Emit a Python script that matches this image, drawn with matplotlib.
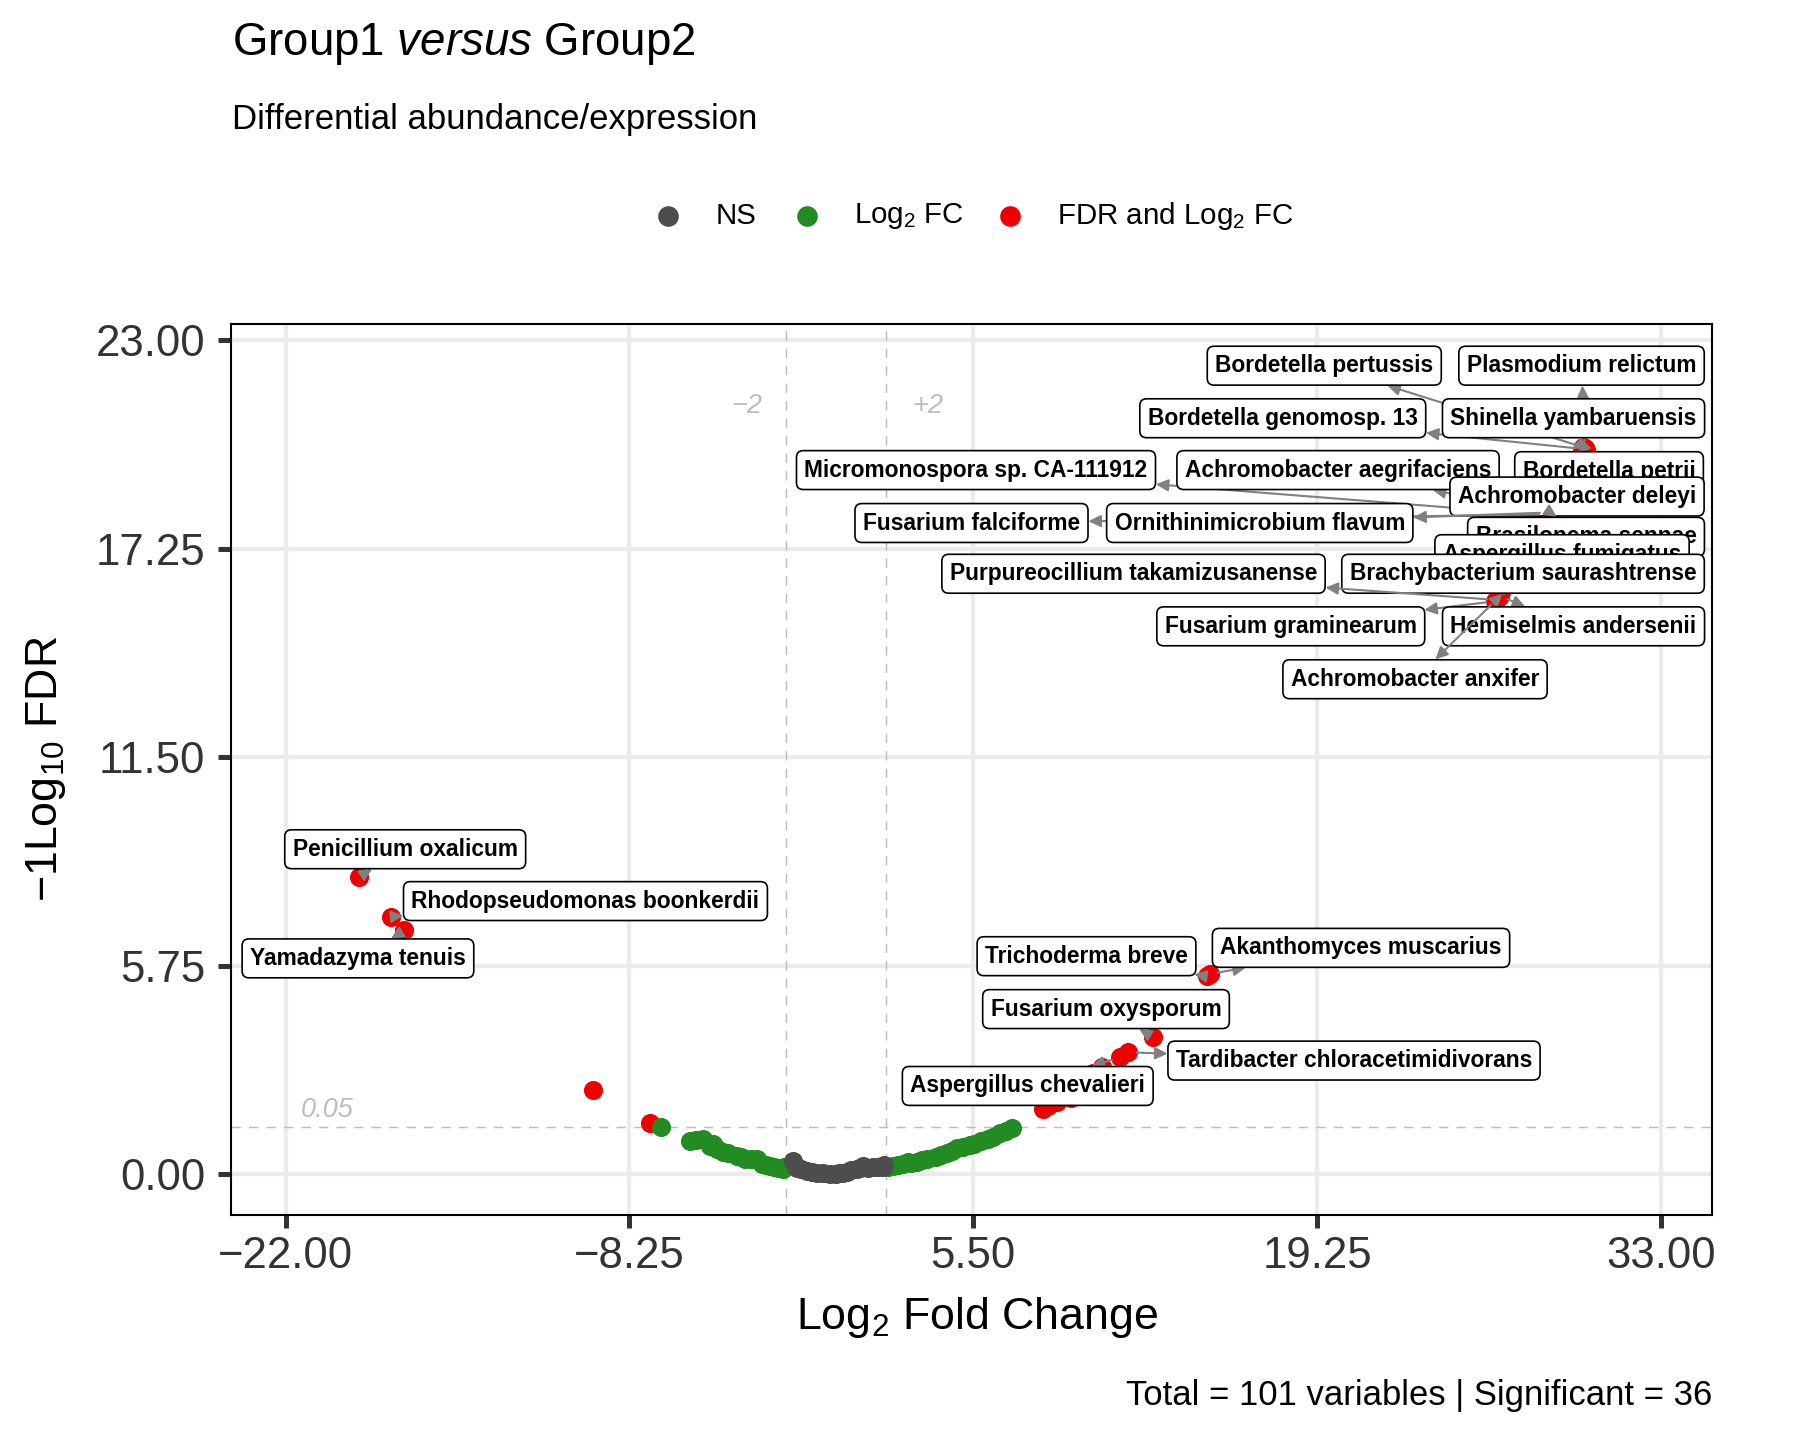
import matplotlib
matplotlib.use("Agg")
import matplotlib.pyplot as plt

plt.rcParams['font.family'] = ['Liberation Sans', 'DejaVu Sans']
plt.rcParams['mathtext.fontset'] = 'custom'
plt.rcParams['mathtext.rm'] = 'Liberation Sans'
plt.rcParams['mathtext.it'] = 'Liberation Sans:italic'
plt.rcParams['mathtext.bf'] = 'Liberation Sans:bold'

# not significant (|log2FC| < 2, FDR > 0.05)
ns_x = [-1.70, -1.56, -1.40, -1.16, -0.95, -0.76, -0.50, -0.23, 0.00, 0.15, 0.30,
        0.44, 0.62, 0.84, 0.97, 1.10, 1.30, 1.50, 1.70, 1.90, 1.95]
ns_y = [0.37, 0.18, 0.14, 0.09, 0.06, 0.03, 0.02, 0.00, 0.00, 0.02, 0.03,
        0.06, 0.10, 0.14, 0.16, 0.22, 0.18, 0.20, 0.20, 0.20, 0.24]

# log2FC only
fc_x = [-7.00, -5.83, -5.60, -5.30, -5.03, -4.90, -4.76, -4.50, -4.30, -3.96, -3.80,
        -3.63, -3.40, -3.16, -2.96, -2.80, -2.63, -2.45, -2.30, -2.10, -2.05,
        2.10, 2.30, 2.50, 2.70, 2.90, 3.00, 3.24, 3.45, 3.64, 4.00, 4.20, 4.44,
        4.65, 4.84, 5.10, 5.37, 5.55, 5.80, 6.10, 6.30, 6.57, 6.80, 7.04]
fc_y = [1.29, 0.92, 0.95, 0.98, 0.78, 0.83, 0.69, 0.60, 0.58, 0.51, 0.46,
        0.41, 0.42, 0.41, 0.28, 0.26, 0.23, 0.20, 0.18, 0.14, 0.20,
        0.20, 0.23, 0.25, 0.27, 0.33, 0.30, 0.33, 0.38, 0.42, 0.48, 0.52, 0.57,
        0.63, 0.71, 0.75, 0.80, 0.84, 0.90, 0.98, 1.03, 1.12, 1.18, 1.26]

# FDR and log2FC
sig_names = ['Penicillium oxalicum', 'Rhodopseudomonas boonkerdii', 'Yamadazyma tenuis', '', '',
             'Trichoderma breve', 'Akanthomyces muscarius', 'Fusarium oxysporum',
             'Tardibacter chloracetimidivorans', 'Aspergillus chevalieri', '', '', '', '', '', '',
             'Plasmodium relictum', 'Shinella yambaruensis', 'Bordetella pertussis',
             'Bordetella petrii', 'Bordetella genomosp. 13', '',
             'Achromobacter deleyi', 'Achromobacter aegrifaciens', 'Micromonospora sp. CA-111912',
             'Ornithinimicrobium flavum', 'Fusarium falciforme', 'Brasilonema sennae', '',
             'Aspergillus fumigatus', 'Brachybacterium saurashtrense',
             'Purpureocillium takamizusanense', 'Fusarium graminearum',
             'Hemiselmis andersenii', 'Achromobacter anxifer', '']
sig_x = [-19.08, -17.77, -17.25, -9.71, -7.43,
         14.85, 14.95, 12.70, 11.70, 11.37, 10.64, 10.30, 9.40, 8.84, 8.50, 8.30,
         29.97, 29.95, 29.90, 30.00, 29.93, 29.85,
         28.44, 28.40, 28.35, 28.50, 28.45, 28.60, 28.30,
         26.44, 26.50, 26.40, 26.35, 26.55, 26.45, 26.60]
sig_y = [8.19, 7.10, 6.72, 2.32, 1.41,
         5.45, 5.52, 3.77, 3.36, 3.22, 2.94, 2.80, 2.10, 1.99, 1.88, 1.79,
         20.00, 20.02, 20.05, 19.97, 20.00, 19.95,
         18.20, 18.22, 18.18, 18.25, 18.20, 18.24, 18.15,
         15.86, 15.90, 15.84, 15.80, 15.95, 15.86, 16.05]

# where the boxed labels sit
label_pos = {
    'Bordetella pertussis': (19.54, 22.30), 'Plasmodium relictum': (29.83, 22.30),
    'Bordetella genomosp. 13': (17.88, 20.85), 'Shinella yambaruensis': (29.51, 20.85),
    'Micromonospora sp. CA-111912': (5.61, 19.42), 'Achromobacter aegrifaciens': (20.09, 19.42),
    'Bordetella petrii': (30.93, 19.39), 'Achromobacter deleyi': (29.65, 18.69),
    'Fusarium falciforme': (5.43, 17.96), 'Ornithinimicrobium flavum': (16.96, 17.96),
    'Brasilonema sennae': (30.01, 17.58), 'Aspergillus fumigatus': (29.05, 17.10),
    'Brachybacterium saurashtrense': (27.49, 16.56),
    'Purpureocillium takamizusanense': (11.91, 16.56),
    'Fusarium graminearum': (18.20, 15.11), 'Hemiselmis andersenii': (29.51, 15.11),
    'Achromobacter anxifer': (23.17, 13.65),
    'Penicillium oxalicum': (-17.22, 8.96), 'Rhodopseudomonas boonkerdii': (-10.01, 7.53),
    'Yamadazyma tenuis': (-19.11, 5.95), 'Trichoderma breve': (10.03, 6.01),
    'Akanthomyces muscarius': (21.01, 6.24), 'Fusarium oxysporum': (10.81, 4.55),
    'Tardibacter chloracetimidivorans': (20.73, 3.13), 'Aspergillus chevalieri': (7.68, 2.43),
}
# drawing order of labels (later ones on top)
label_order = ['Penicillium oxalicum', 'Rhodopseudomonas boonkerdii', 'Yamadazyma tenuis',
               'Trichoderma breve', 'Akanthomyces muscarius', 'Fusarium oxysporum',
               'Tardibacter chloracetimidivorans', 'Aspergillus chevalieri',
               'Bordetella pertussis', 'Plasmodium relictum', 'Bordetella genomosp. 13',
               'Shinella yambaruensis', 'Micromonospora sp. CA-111912',
               'Achromobacter aegrifaciens', 'Bordetella petrii', 'Achromobacter deleyi',
               'Fusarium falciforme', 'Ornithinimicrobium flavum', 'Brasilonema sennae',
               'Aspergillus fumigatus', 'Brachybacterium saurashtrense',
               'Purpureocillium takamizusanense', 'Fusarium graminearum',
               'Hemiselmis andersenii', 'Achromobacter anxifer']

xticks = [-22, -8.25, 5.5, 19.25, 33]
yticks = [0, 5.75, 11.5, 17.25, 23]
fc_cut = 2
p_cut = 1.30103  # -log10(0.05)

fig = plt.figure(figsize=(12, 9.6), dpi=150)
ax = fig.add_axes([0.1283, 0.1565, 0.8227, 0.6185])

ax.set_xlim(-24.19, 35.04)
ax.set_ylim(-1.12, 23.45)
ax.set_axisbelow(True)
ax.grid(True, color='#ebebeb', lw=2.1)

for v in (-fc_cut, fc_cut):
    ax.axvline(v, color='#bdbdbd', lw=0.7, ls=(0, (6.4, 5.6)), zorder=1)
ax.axhline(p_cut, color='#bdbdbd', lw=0.7, ls=(0, (6.4, 5.6)), zorder=1)
ax.text(-3.57, 21.2, '\u22122', color='#bdbdbd', style='italic', fontsize=13, ha='center', va='center')
ax.text(3.69, 21.2, '+2', color='#bdbdbd', style='italic', fontsize=13, ha='center', va='center')
ax.text(-20.35, 1.76, '0.05', color='#bdbdbd', style='italic', fontsize=13, ha='center', va='center')

ax.scatter(sig_x, sig_y, s=84, color='#ee0000', lw=0, zorder=2)
ax.scatter(fc_x, fc_y, s=84, color='#228b22', lw=0, zorder=2)
ax.scatter(ns_x, ns_y, s=84, color='#4d4d4d', lw=0, zorder=2)

for i, name in enumerate(label_order):
    k = sig_names.index(name)
    ax.annotate(name, xy=(sig_x[k], sig_y[k]), xytext=label_pos[name],
                ha='center', va='center', fontsize=10.9, fontweight='bold',
                bbox=dict(boxstyle='round,pad=0.35,rounding_size=0.3', fc='white', ec='black', lw=0.8),
                arrowprops=dict(arrowstyle='<|-,head_length=0.45,head_width=0.22',
                                color='#808080', lw=1.0, shrinkA=0, shrinkB=4),
                zorder=5 + i, annotation_clip=False)

ax.set_xticks(xticks)
ax.set_xticklabels([f'{v:.2f}'.replace('-', '\u2212') for v in xticks])
ax.set_yticks(yticks)
ax.set_yticklabels([f'{v:.2f}' for v in yticks])
ax.tick_params(length=6.3, width=2.4, color='#333333', labelsize=21, labelcolor='#333333')
ax.tick_params(axis='x', pad=4)
ax.tick_params(axis='y', pad=6)
for sp in ax.spines.values():
    sp.set_linewidth(1.0)

ax.set_xlabel('Log$_2$ Fold Change', fontsize=21.5, va='center')
ax.xaxis.set_label_coords(0.504, -0.115)
ax.set_ylabel('\u22121Log$_{10}$ FDR', fontsize=21.5, va='center')
ax.yaxis.set_label_coords(-0.125, 0.5)

fig.text(232 / 1800, 1 - 44 / 1440, 'Group1 $\\it{versus}$ Group2', fontsize=21.9, ha='left', va='center')
fig.text(232 / 1800, 1 - 120 / 1440, 'Differential abundance/expression', fontsize=16.7, ha='left', va='center')
fig.text(1712 / 1800, 1 - 1395 / 1440, 'Total = 101 variables | Significant = 36', fontsize=16.6,
         ha='right', va='center')

# legend row across the top
lax = fig.add_axes([0, 0, 1, 1])
lax.set_xlim(0, 1800)
lax.set_ylim(1440, 0)
lax.axis('off')
leg_labels = ['NS', 'Log$_2$ FC', 'FDR and Log$_2$ FC']
leg_colors = ['#4d4d4d', '#228b22', '#ee0000']
for lab, col, mx, tx in zip(leg_labels, leg_colors, [668, 807, 1010], [716, 854, 1057]):
    lax.plot([mx], [216], marker='o', ls='', markersize=9.9, color=col, mew=0)
    lax.text(tx, 216, lab, fontsize=14.2, ha='left', va='center')

fig.savefig('out.png', dpi=150)
